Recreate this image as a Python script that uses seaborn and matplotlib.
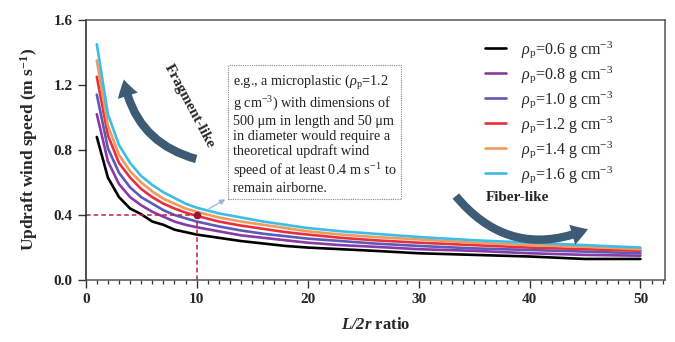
import numpy as np
import pandas as pd
import matplotlib
matplotlib.use("Agg")
import matplotlib.pyplot as plt
import seaborn as sns
from matplotlib.patches import FancyArrowPatch

# ---- data ----
ratio = [1, 2, 3, 4, 5, 6, 7, 8, 9, 10, 12, 14, 16, 18, 20, 23, 26, 30, 35, 40, 45, 50]
densities = ["0.6", "0.8", "1.0", "1.2", "1.4", "1.6"]
v06 = [0.88, 0.63, 0.51, 0.44, 0.405, 0.36, 0.34, 0.31, 0.295, 0.28, 0.26, 0.24, 0.225, 0.21, 0.20, 0.19, 0.18, 0.165, 0.155, 0.145, 0.13, 0.13]
v08 = [1.02, 0.73, 0.59, 0.51, 0.46, 0.42, 0.39, 0.36, 0.34, 0.325, 0.30, 0.275, 0.26, 0.245, 0.23, 0.215, 0.205, 0.19, 0.18, 0.165, 0.155, 0.15]
v10 = [1.14, 0.81, 0.66, 0.57, 0.51, 0.47, 0.43, 0.40, 0.38, 0.36, 0.33, 0.305, 0.285, 0.27, 0.255, 0.24, 0.225, 0.21, 0.195, 0.185, 0.175, 0.165]
v12 = [1.25, 0.89, 0.72, 0.63, 0.56, 0.51, 0.47, 0.44, 0.415, 0.395, 0.36, 0.335, 0.315, 0.295, 0.28, 0.26, 0.245, 0.23, 0.215, 0.20, 0.19, 0.18]
v14 = [1.35, 0.95, 0.77, 0.67, 0.60, 0.545, 0.50, 0.47, 0.44, 0.42, 0.385, 0.36, 0.34, 0.32, 0.30, 0.28, 0.265, 0.25, 0.23, 0.215, 0.205, 0.19]
v16 = [1.45, 1.02, 0.83, 0.72, 0.64, 0.585, 0.54, 0.505, 0.47, 0.445, 0.41, 0.385, 0.36, 0.34, 0.32, 0.30, 0.285, 0.265, 0.245, 0.23, 0.215, 0.20]
series = [v06, v08, v10, v12, v14, v16]
colors = ["#000000", "#8a3aa6", "#5a5ab8", "#e8303c", "#f09a5c", "#3cbde8"]
example_x = [10]
example_y = [0.40]

rows = []
for d, vals in zip(densities, series):
    for x, v in zip(ratio, vals):
        rows.append({"ratio": x, "speed": v, "rho": d})
df = pd.DataFrame(rows)

# ---- style ----
sns.set_theme(style="ticks")
plt.rcParams["font.family"] = ["Liberation Serif", "DejaVu Serif"]
plt.rcParams["mathtext.fontset"] = "custom"
plt.rcParams["mathtext.rm"] = "Liberation Serif"
plt.rcParams["mathtext.it"] = "Liberation Serif:italic"
plt.rcParams["mathtext.bf"] = "Liberation Serif:bold"
plt.rcParams["mathtext.bfit"] = "Liberation Serif:bold:italic"

fig = plt.figure(figsize=(6.75, 3.42), dpi=100)
ax = fig.add_axes([0.127, 0.181, 0.858, 0.761])

sns.lineplot(data=df, x="ratio", y="speed", hue="rho", palette=colors,
             hue_order=densities, linewidth=1.9, ax=ax, legend=False)

# example point with dashed guides
ax.plot([0, example_x[0]], [example_y[0], example_y[0]], ls=(0, (3, 2)), color="#c0203a", lw=1.1)
ax.plot([example_x[0], example_x[0]], [0, example_y[0]], ls=(0, (3, 2)), color="#c0203a", lw=1.1)
ax.plot(example_x, example_y, "o", color="#9a1530", ms=4.5, zorder=5)

ax.set_xlim(0, 52.2)
ax.set_ylim(0, 1.6)
ax.set_xticks([0, 10, 20, 30, 40, 50])
ax.set_xticks(np.arange(0, 53, 1), minor=True)
ax.set_yticks([0.0, 0.4, 0.8, 1.2, 1.6])
ax.set_yticklabels(["0.0", "0.4", "0.8", "1.2", "1.6"])
ax.tick_params(axis="both", which="major", direction="out", length=6, width=1.0,
               labelsize=11, color="#333333")
ax.tick_params(axis="x", which="minor", direction="out", length=3, width=0.9, color="#333333")
for lab in ax.get_xticklabels() + ax.get_yticklabels():
    lab.set_fontweight("bold")
for s in ax.spines.values():
    s.set_visible(True)
    s.set_color("#555555")
    s.set_linewidth(1.1)
ax.spines["left"].set_color("#222222")

ax.set_xlabel(r"$\mathbfit{L/2r}$ ratio", fontsize=12, fontweight="bold", labelpad=8)
ax.set_ylabel(r"Updraft wind speed (m s$^{\mathbf{-1}}$)", fontsize=12.5, fontweight="bold", labelpad=10)

# legend
handles = [plt.Line2D([], [], color=c, lw=1.9) for c in colors]
labels = [r"$\rho_{\rm p}$=" + d + r" g cm$^{-3}$" for d in densities]
ax.legend(handles, labels, loc="upper right", bbox_to_anchor=(0.935, 0.98), frameon=False,
          fontsize=11.5, handlelength=1.3, labelspacing=0.25, handletextpad=0.9)

# annotation box
ann = (r"e.g., a microplastic ($\rho_{\rm p}$=1.2" "\n"
       r"g cm$^{-3}$) with dimensions of" "\n"
       "500 \u03bcm in length and 50 \u03bcm\n"
       "in diameter would require a\n"
       "theoretical updraft wind\n"
       r"speed of at least 0.4 m s$^{-1}$ to" "\n"
       "remain airborne.")
ax.text(13.25, 1.275, ann, fontsize=10.3, va="top", ha="left", linespacing=1.2, color="#222222",
        bbox=dict(boxstyle="square,pad=0.3", fc="white", ec="#888888", lw=0.8, ls=(0, (1, 1))))
ax.annotate("", xy=(12.8, 0.505), xytext=(10.9, 0.43),
            arrowprops=dict(arrowstyle="-|>", color="#8fb4e0", lw=0.9, mutation_scale=8))

# curved arrows
frag = FancyArrowPatch((10.2, 0.74), (3.4, 1.25), connectionstyle="arc3,rad=-0.33",
                       arrowstyle="simple,head_width=15,head_length=12,tail_width=6",
                       color="#3e5b75", lw=0, zorder=3)
ax.add_patch(frag)
ax.text(9.3, 1.07, "Fragment-like", rotation=-62, fontsize=11, fontweight="bold",
        ha="center", va="center")

fib = FancyArrowPatch((33.2, 0.53), (45.5, 0.32), connectionstyle="arc3,rad=0.38",
                      arrowstyle="simple,head_width=15,head_length=12,tail_width=6",
                      color="#3e5b75", lw=0, zorder=3)
ax.add_patch(fib)
ax.text(38.9, 0.505, "Fiber-like", fontsize=11, fontweight="bold", ha="center", va="center")

fig.savefig("out.png", dpi=100)
